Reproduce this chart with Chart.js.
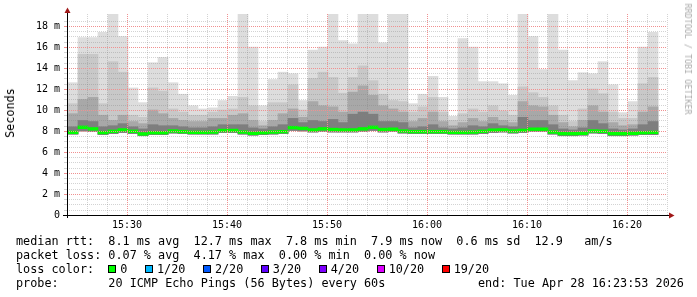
<!DOCTYPE html>
<html>
<head>
<meta charset="utf-8">
<script src="https://cdn.jsdelivr.net/npm/chart.js@4.4.1/dist/chart.umd.min.js"></script>
<style>
  html, body { margin: 0; padding: 0; background: #fff; }
  #wrap { position: relative; width: 697px; height: 297px; overflow: hidden; }
  #chart { position: absolute; left: 0; top: 0; }
  .mono { font-family: "DejaVu Sans Mono", monospace; color: #000; white-space: pre; }
  #ytitle { position: absolute; left: 10px; top: 113px; font-size: 11.8px;
            transform: translate(-50%, -50%) rotate(-90deg); }
  #credit { position: absolute; left: 688px; top: 59px; font-size: 8.4px; color: #aaa;
            transform: translate(-50%, -50%) rotate(90deg); }
  #legend { position: absolute; left: 16px; top: 234px; font-size: 11.8px; line-height: 14px; }
  .sw { display: inline-block; width: 6px; height: 6px; border: 1px solid #000;
        margin-right: 4px; vertical-align: 0px; }
  .item { margin-right: 17.5px; }
  #end { position: absolute; left: 478px; top: 276px; font-size: 11.8px; line-height: 14px; }
</style>
</head>
<body>
<div id="wrap">
  <canvas id="chart" width="697" height="297"></canvas>
  <div id="ytitle" class="mono">Seconds</div>
  <div id="credit" class="mono">RRDTOOL / TOBI OETIKER</div>
  <div id="legend" class="mono"><div>median rtt:  8.1 ms avg  12.7 ms max  7.8 ms min  7.9 ms now  0.6 ms sd  12.9   am/s</div><div>packet loss: 0.07 % avg  4.17 % max  0.00 % min  0.00 % now</div><div id="lossrow">loss color:  </div><div>probe:       20 ICMP Echo Pings (56 Bytes) every 60s</div></div>
  <div id="end" class="mono">end: Tue Apr 28 16:23:53 2026</div>
</div>
<script>
// ── data (ms), one sample per minute, 15:24 → 16:23 ─────────────────────────
const startTime = '15:24';
const firstSampleOffset = 0.6;   // minutes after startTime

const rttMax = [12.6, 16.9, 16.9, 17.4, 19.2, 17.0, 12.1, 10.7, 14.5, 15.0,
                12.6, 11.5, 10.4, 10.1, 10.2, 10.9, 11.3, 19.2, 16.0, 10.4,
                12.9, 13.6, 13.45, 10.9, 15.7, 16.0, 19.2, 16.6, 16.3, 19.2,
                19.2, 16.4, 19.2, 19.2, 10.6, 11.5, 13.2, 11.2, 9.4, 16.8,
                16.0, 12.7, 12.7, 12.5, 11.4, 19.2, 17.0, 13.85, 19.2, 15.7,
                12.8, 13.55, 13.45, 14.6, 12.4, 9.75, 10.8, 16.0, 17.4];
const rttHigh = [10.6, 15.3, 15.3, 10.6, 14.6, 13.6, 9.5, 9.3, 12.1, 11.8,
                 10.1, 9.8, 9.5, 9.5, 9.8, 10.0, 10.1, 11.2, 10.4, 8.9,
                 10.7, 10.7, 12.4, 10.0, 13.0, 13.6, 13.1, 11.6, 13.1, 14.2,
                 12.8, 11.5, 10.9, 10.8, 9.8, 10.3, 11.2, 9.8, 9.0, 9.65,
                 10.1, 9.8, 10.4, 9.9, 9.5, 12.2, 11.65, 11.2, 10.4, 9.5,
                 8.9, 10.1, 12.0, 11.55, 9.8, 9.2, 9.2, 12.5, 13.1];
const rttMid = [9.65, 11.0, 11.2, 9.5, 9.0, 9.5, 8.9, 8.7, 10.0, 9.65,
                9.2, 9.0, 8.9, 8.9, 9.2, 9.2, 9.5, 9.65, 9.0, 8.5,
                9.0, 9.65, 10.1, 9.3, 10.8, 10.4, 10.3, 9.8, 11.7, 12.3,
                11.4, 10.4, 10.1, 9.8, 8.9, 9.2, 9.8, 8.9, 8.5, 8.8,
                9.2, 8.9, 9.3, 9.0, 8.8, 10.8, 10.4, 10.3, 9.5, 8.8,
                8.4, 9.0, 10.4, 9.8, 8.8, 8.5, 8.6, 9.8, 10.3];
const rttCore = [8.4, 9.0, 8.9, 8.4, 8.5, 8.7, 8.4, 8.2, 8.6, 8.5,
                 8.5, 8.4, 8.3, 8.3, 8.4, 8.6, 8.6, 8.6, 8.3, 8.2,
                 8.4, 8.6, 9.2, 8.8, 9.0, 8.9, 9.1, 8.8, 9.6, 9.8,
                 9.6, 8.9, 8.9, 8.8, 8.3, 8.4, 8.6, 8.3, 8.2, 8.3,
                 8.5, 8.4, 8.7, 8.5, 8.4, 9.3, 9.0, 9.0, 8.6, 8.2,
                 8.1, 8.3, 9.0, 8.7, 8.2, 8.1, 8.2, 8.6, 8.9];
const rttMedian = [7.87, 8.35, 8.2, 7.85, 7.97, 8.1, 7.97, 7.72, 7.84, 7.84,
                   8.0, 7.94, 7.87, 7.87, 7.9, 8.05, 8.05, 7.9, 7.78, 7.84,
                   7.9, 7.94, 8.32, 8.25, 8.1, 8.2, 8.14, 8.1, 8.1, 8.2,
                   8.35, 8.14, 8.17, 8.0, 7.94, 7.94, 7.94, 7.94, 7.87, 7.87,
                   7.9, 7.97, 8.08, 8.1, 8.0, 8.06, 8.17, 8.17, 7.9, 7.75,
                   7.75, 7.78, 8.0, 7.97, 7.75, 7.75, 7.78, 7.84, 7.87];
const rttMin = [7.7, 8.0, 7.95, 7.65, 7.75, 7.85, 7.75, 7.55, 7.65, 7.65,
                7.8, 7.75, 7.7, 7.7, 7.7, 7.85, 7.85, 7.7, 7.6, 7.65,
                7.7, 7.75, 8.05, 8.0, 7.9, 7.95, 7.9, 7.9, 7.9, 7.95,
                8.05, 7.9, 7.95, 7.8, 7.75, 7.75, 7.75, 7.75, 7.7, 7.7,
                7.7, 7.75, 7.85, 7.9, 7.8, 7.85, 7.95, 7.95, 7.7, 7.55,
                7.55, 7.6, 7.8, 7.75, 7.55, 7.55, 7.6, 7.65, 7.65];

const xTickLabels = ['15:30', '15:40', '15:50', '16:00', '16:10', '16:20'];
const yTickLabels = ['0', '2 m', '4 m', '6 m', '8 m', '10 m', '12 m', '14 m', '16 m', '18 m'];

const lossColors = ['#00ff00', '#00b8ff', '#0059ff', '#5e00ff', '#7e00ff', '#dd00ff', '#ff0000'];
const lossLabels = ['0', '1/20', '2/20', '3/20', '4/20', '10/20', '19/20'];

// ── helpers ──────────────────────────────────────────────────────────────────
const toMin = s => { const [h, m] = s.split(':').map(Number); return h * 60 + m; };
const t0 = toMin(startTime);
const xOf = i => firstSampleOffset + i;
const majorX = xTickLabels.map(l => toMin(l) - t0);
const majorY = yTickLabels.map(l => parseFloat(l));
const near = (list, v) => list.some(m => Math.abs(m - v) < 1e-6);

const band = (lo, hi) => lo.map((v, i) => ({ x: xOf(i), y: [v, hi[i]] }));
const medianBand = rttMedian.map((v, i) => ({ x: xOf(i), y: [v - 0.13, v + 0.13] }));

const barDefaults = {
  type: 'bar', grouped: false, barPercentage: 1, categoryPercentage: 1,
  borderWidth: 0, borderSkipped: false,
};

// loss legend row
const lossRow = document.getElementById('lossrow');
lossLabels.forEach((l, i) => {
  const sw = document.createElement('span');
  sw.className = 'sw';
  sw.style.background = lossColors[i];
  const tx = document.createElement('span');
  tx.className = 'item';
  tx.textContent = l;
  lossRow.appendChild(sw);
  lossRow.appendChild(tx);
});

const RED = '#f09090';
const GREY = 'rgba(128,128,128,0.35)';

// dotted rrdtool grid, drawn over the smoke
const rrdGrid = {
  id: 'rrdGrid',
  afterDatasetsDraw(chart) {
    const { ctx, chartArea: a, scales: { x, y } } = chart;
    ctx.save();
    ctx.lineWidth = 1;
    const seg = (x1, y1, x2, y2, color, dash) => {
      ctx.setLineDash(dash);
      ctx.strokeStyle = color;
      ctx.beginPath();
      ctx.moveTo(x1, y1);
      ctx.lineTo(x2, y2);
      ctx.stroke();
    };
    // minor lines first, major red ones on top
    [false, true].forEach(major => {
      x.ticks.forEach(t => {
        if (t.value <= x.min || near(majorX, t.value) !== major) return;
        const px = Math.round(x.getPixelForValue(t.value)) + 0.5;
        seg(px, a.top, px, a.bottom, major ? RED : GREY, [1, 1]);
      });
      y.ticks.forEach(t => {
        if (t.value <= y.min || near(majorY, t.value) !== major) return;
        const py = Math.round(y.getPixelForValue(t.value)) + 0.5;
        seg(a.left, py, a.right, py, major ? RED : GREY, [1, 1]);
        seg(a.left - 3, py, a.left, py, major ? RED : GREY, []);
      });
    });
    ctx.restore();
  },
};

// axis extension + arrows, rrdtool style
const axisArrows = {
  id: 'axisArrows',
  afterDraw(chart) {
    const { ctx, chartArea: a } = chart;
    ctx.save();
    ctx.strokeStyle = '#000';
    ctx.lineWidth = 1;
    ctx.beginPath();
    ctx.moveTo(a.left + 0.5, a.bottom + 3);
    ctx.lineTo(a.left + 0.5, a.top - 3);
    ctx.moveTo(a.left - 4, a.bottom + 0.5);
    ctx.lineTo(a.right + 3, a.bottom + 0.5);
    ctx.stroke();
    ctx.fillStyle = '#a01818';
    ctx.beginPath();
    ctx.moveTo(a.left + 0.5, a.top - 6.5);
    ctx.lineTo(a.left - 2.5, a.top - 1);
    ctx.lineTo(a.left + 3.5, a.top - 1);
    ctx.closePath();
    ctx.fill();
    ctx.beginPath();
    ctx.moveTo(a.right + 7.5, a.bottom + 0.5);
    ctx.lineTo(a.right + 2, a.bottom - 2.5);
    ctx.lineTo(a.right + 2, a.bottom + 3.5);
    ctx.closePath();
    ctx.fill();
    ctx.restore();
  },
};

const tickFont = { family: 'DejaVu Sans Mono', size: 10 };

new Chart(document.getElementById('chart'), {
  type: 'bar',
  data: {
    datasets: [
      { ...barDefaults, data: band(rttMin, rttMax),  backgroundColor: '#dddddd', order: 5 },
      { ...barDefaults, data: band(rttMin, rttHigh), backgroundColor: '#c8c8c8', order: 4 },
      { ...barDefaults, data: band(rttMin, rttMid),  backgroundColor: '#a8a8a8', order: 3 },
      { ...barDefaults, data: band(rttMin, rttCore), backgroundColor: '#7e7e7e', order: 2 },
      { ...barDefaults, data: medianBand,            backgroundColor: lossColors[0], order: 1 },
    ],
  },
  options: {
    responsive: false,
    animation: false,
    events: [],
    layout: { padding: { left: 0, right: 30, top: 14, bottom: 62 } },
    plugins: { legend: { display: false }, tooltip: { enabled: false } },
    scales: {
      x: {
        type: 'linear', min: 0, max: 60, offset: false,
        afterFit: s => { s.height = 20; },
        afterBuildTicks: s => { s.ticks = s.ticks.filter(t => t.value % 2 === 0); },
        ticks: {
          stepSize: 2, autoSkip: false, maxRotation: 0, color: '#000', font: tickFont, padding: 4,
          callback: v => { const i = majorX.findIndex(m => Math.abs(m - v) < 1e-6); return i >= 0 ? xTickLabels[i] : ''; },
        },
        grid: { display: false, drawTicks: false, tickLength: 0, offset: false },
        border: { display: false },
      },
      y: {
        min: 0, max: 19.14,
        afterFit: s => { s.width = 67; },
        afterBuildTicks: s => { s.ticks = s.ticks.filter(t => Math.abs(t.value * 2 - Math.round(t.value * 2)) < 1e-6); },
        ticks: {
          stepSize: 0.5, autoSkip: false, color: '#000', font: tickFont, padding: 7,
          callback: v => { const i = majorY.findIndex(m => Math.abs(m - v) < 1e-6); return i >= 0 ? yTickLabels[i] : ''; },
        },
        grid: { display: false, drawTicks: false, tickLength: 0 },
        border: { display: false },
      },
    },
  },
  plugins: [rrdGrid, axisArrows],
});
</script>
</body>
</html>
